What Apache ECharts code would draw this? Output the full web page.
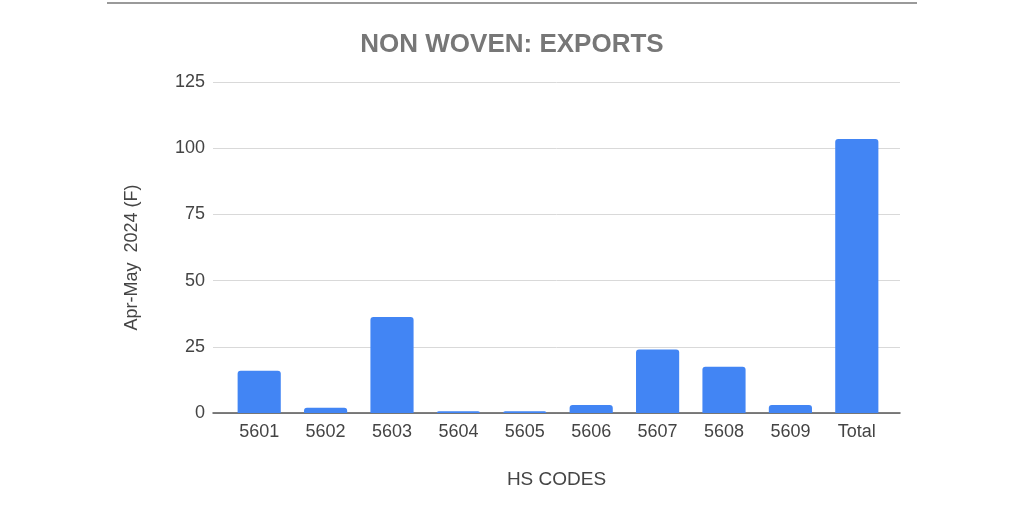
<!DOCTYPE html>
<html>
<head>
<meta charset="utf-8">
<script src="https://cdn.jsdelivr.net/npm/echarts@6/dist/echarts.min.js"></script>
<style>
  html, body { margin: 0; padding: 0; background: #fff; }
  #chart { width: 1024px; height: 512px; }
</style>
</head>
<body>
<div id="chart"></div>
<script>
// data
var categories = ['5601', '5602', '5603', '5604', '5605', '5606', '5607', '5608', '5609', 'Total']
var exportValues = [16, 2, 36.3, 0.7, 0.7, 3, 24, 17.5, 3, 103.5]
var yTicks = [0, 25, 50, 75, 100, 125]

var font = '"Liberation Sans", Arial, sans-serif'
var chart = echarts.init(document.getElementById('chart'))
chart.setOption({
  textStyle: { fontFamily: font },
  title: {
    text: 'NON WOVEN: EXPORTS',
    left: 'center',
    top: 27,
    textStyle: { color: '#777', fontSize: 26, fontWeight: 'bold', fontFamily: font }
  },
  graphic: [{
    type: 'line',
    shape: { x1: 107, y1: 3, x2: 917, y2: 3 },
    style: { stroke: '#9a9a9a', lineWidth: 2 }
  }],
  // grid 0 carries gridlines and axis line, grid 1 (inset) carries the bars
  grid: [
    { left: 213, right: 124, top: 82, bottom: 99 },
    { left: 226, right: 134, top: 82, bottom: 99 }
  ],
  xAxis: [{
    type: 'category',
    gridIndex: 0,
    data: categories,
    name: 'HS CODES',
    nameLocation: 'middle',
    nameGap: 57,
    nameTextStyle: { color: '#444', fontSize: 19 },
    axisTick: { show: false },
    axisLine: { lineStyle: { color: '#555', width: 1.5 } },
    axisLabel: { show: false }
  }, {
    type: 'category',
    gridIndex: 1,
    data: categories,
    axisTick: { show: false },
    axisLine: { show: false },
    axisLabel: { color: '#444', fontSize: 18, margin: 10 }
  }],
  yAxis: [{
    type: 'value',
    gridIndex: 0,
    min: yTicks[0],
    max: yTicks[yTicks.length - 1],
    interval: 25,
    name: 'Apr-May  2024 (F)',
    nameLocation: 'middle',
    nameGap: 72,
    nameTextStyle: { color: '#444', fontSize: 18, padding: [0, 20, 0, 0] },
    axisLabel: { color: '#444', fontSize: 18, margin: 8 },
    splitLine: { lineStyle: { color: '#d9d9d9', width: 1 } }
  }, {
    type: 'value',
    gridIndex: 1,
    min: yTicks[0],
    max: yTicks[yTicks.length - 1],
    interval: 25,
    show: false,
    splitLine: { show: false }
  }],
  series: [{
    type: 'bar',
    xAxisIndex: 1,
    yAxisIndex: 1,
    data: exportValues,
    barWidth: '65%',
    itemStyle: { color: '#4285f4', borderRadius: [3, 3, 0, 0] }
  }]
})
</script>
</body>
</html>
